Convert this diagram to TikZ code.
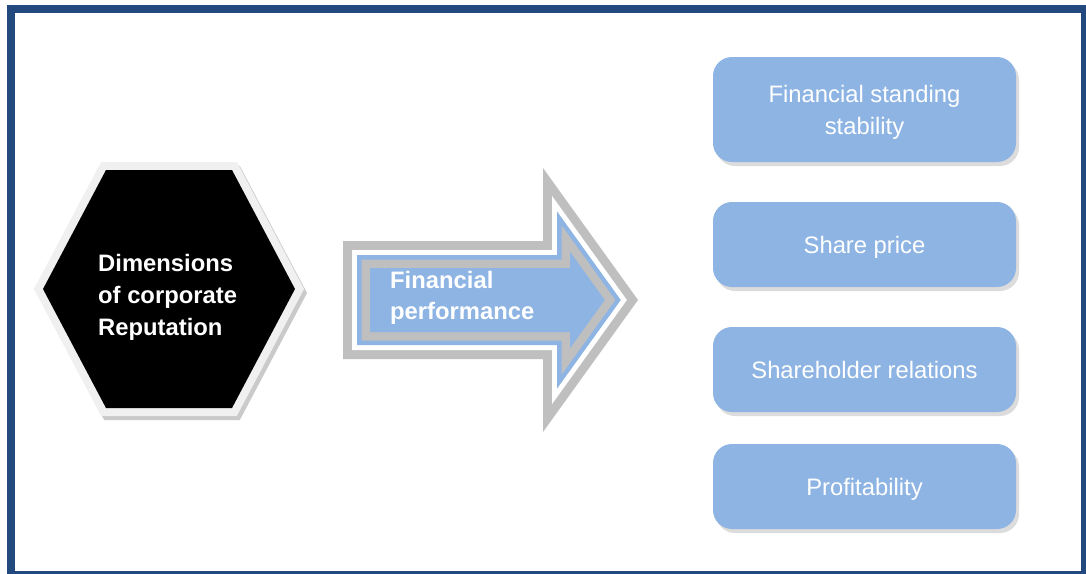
\documentclass[tikz,border=0pt]{standalone}
\usepackage{fontspec}
\setmainfont{Liberation Sans}
\usetikzlibrary{shadows}
\definecolor{framec}{HTML}{224A7E}
\definecolor{boxblue}{HTML}{8EB4E3}
\definecolor{arrgray}{HTML}{BFBFBF}
\definecolor{hexborder}{HTML}{F0F0F0}
\definecolor{hexshadow}{HTML}{CACACA}
\definecolor{boxshadow}{HTML}{DCDCDC}
\tikzset{
  arrowshape/.style={insert path={(343+#1,241+#1) -- (543+#1,241+#1) -- (543+#1,168+3.10*#1) -- (638-1.231*#1,300) -- (543+#1,432-3.10*#1) -- (543+#1,359-#1) -- (343+#1,359-#1) -- cycle}},
  hexshape/.style={insert path={(106,170) -- (232,170) -- (295,289) -- (232,408) -- (106,408) -- (43,289) -- cycle}},
  boldtext/.style={text=white, font=\fontsize{23.8}{32}\selectfont\bfseries, align=left, inner sep=0pt},
  infobox/.style={fill=boxblue, rounded corners=19pt, minimum width=303pt, text=white,
     font=\fontsize{23.8}{32}\selectfont, align=center, inner sep=0pt, text depth=0pt,
     drop shadow={shadow xshift=3pt, shadow yshift=-4pt, fill=boxshadow, opacity=1}},
}
\begin{document}
\begin{tikzpicture}[x=1pt,y=-1pt]
\useasboundingbox (0,0) rectangle (1086,573);
\fill[white] (0,0) rectangle (1086,573);
\draw[framec, line width=8pt] (11,9) rectangle (1085,575);
% hexagon
\draw[hexshadow, line width=16pt, line join=miter, shift={(3,4)}] [hexshape];
\fill[hexshadow, shift={(3,4)}] [hexshape];
\draw[hexborder, line width=16pt, line join=miter] [hexshape];
\fill[black] [hexshape];
\node[boldtext, anchor=west] (hexlabel) at (98,297) {Dimensions\\of corporate\\Reputation};
% block arrow
\fill[arrgray] [arrowshape=0];
\fill[white] [arrowshape=9];
\fill[boxblue] [arrowshape=14];
\fill[arrgray] [arrowshape=18.5];
\fill[boxblue] [arrowshape=27];
\node[boldtext, anchor=west, font=\fontsize{23.8}{31}\selectfont\bfseries] (arrowlabel) at (390,297.5) {Financial\\performance};
% boxes
\node[infobox, minimum height=105pt] (b1) at (864.5,109.5) {Financial standing\\stability};
\node[infobox, minimum height=85pt] (b2) at (864.5,244.5) {Share price};
\node[infobox, minimum height=85pt] (b3) at (864.5,369.5) {Shareholder relations};
\node[infobox, minimum height=85pt] (b4) at (864.5,486.5) {Profitability};
\end{tikzpicture}
\end{document}
